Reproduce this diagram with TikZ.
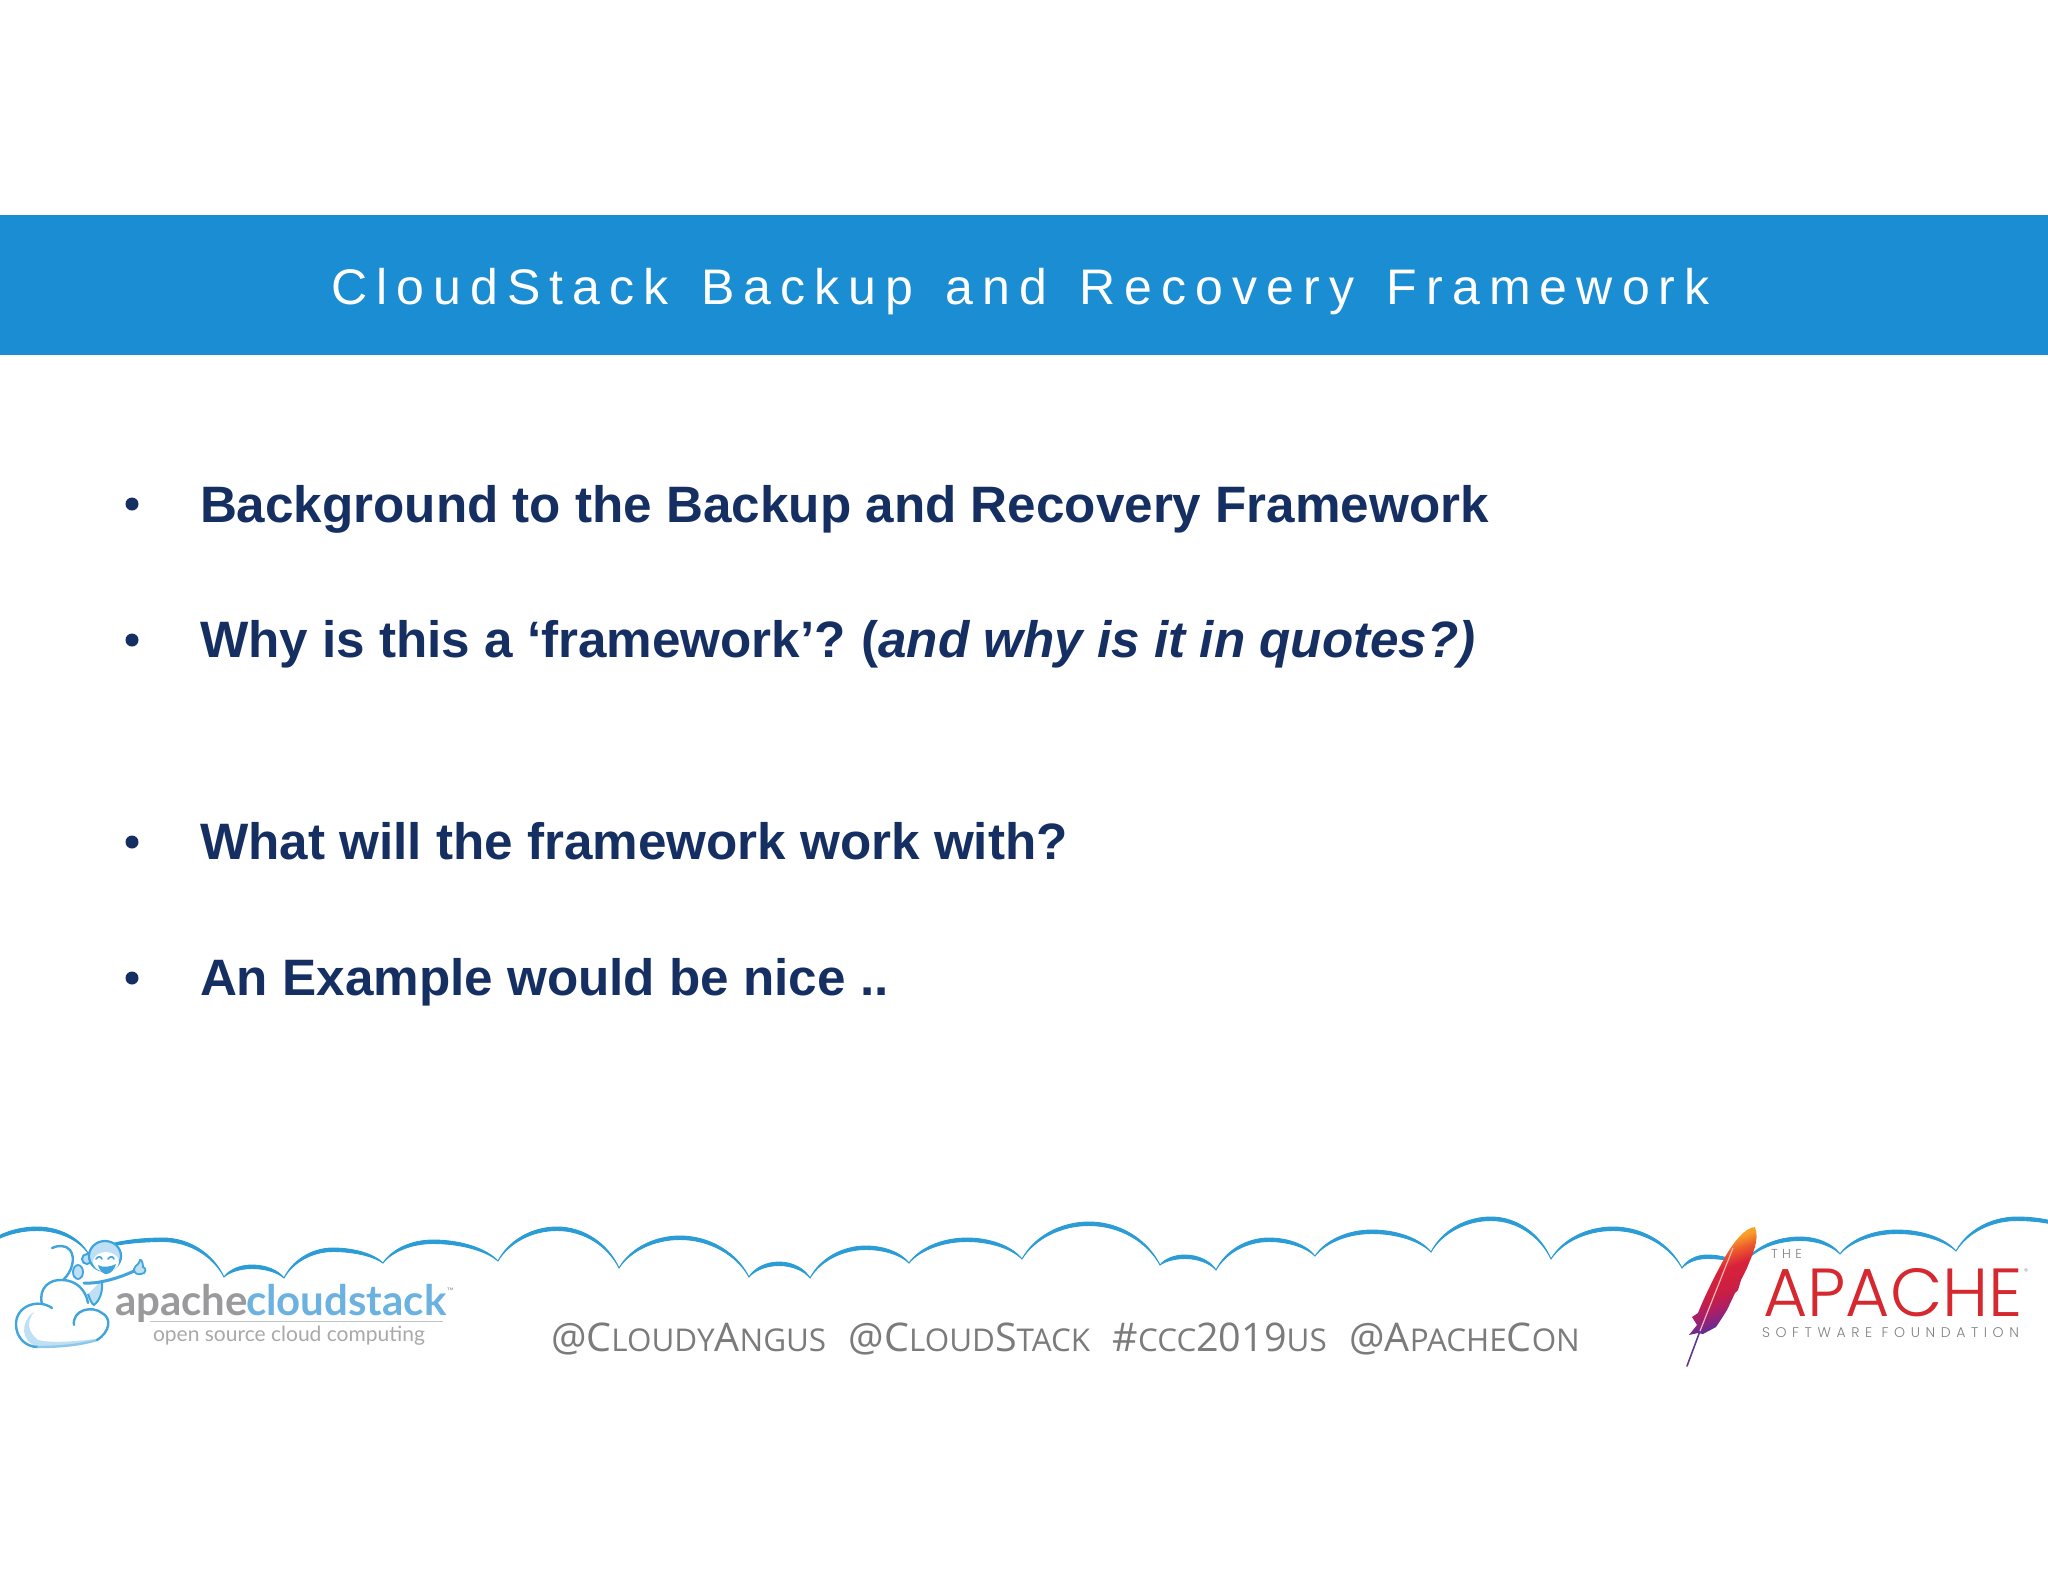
\documentclass[tikz,border=0pt]{standalone}
\usepackage{fontspec}
\setmainfont{Liberation Sans}
\newfontfamily\gilly{Open Sans}
\newfontfamily\logof{Lato}
\newfontfamily\pop{Poppins}[UprightFont=* Light]
\usetikzlibrary{calc}
\definecolor{banner}{HTML}{1B8DD2}
\definecolor{navy}{HTML}{152F63}
\definecolor{cloudline}{HTML}{2B9CD6}
\definecolor{mk}{HTML}{3FA5DC}
\definecolor{mklight}{HTML}{BFE0F4}
\definecolor{hash}{HTML}{7B7B7B}
\definecolor{lgray}{HTML}{9A9A9C}
\definecolor{lblue}{HTML}{6BB2E0}
\definecolor{ared}{HTML}{D5282F}
\definecolor{agray}{HTML}{808082}
\definecolor{fa}{HTML}{6E2A90}
\definecolor{fb}{HTML}{A81F6A}
\definecolor{fc}{HTML}{C81E45}
\definecolor{fd}{HTML}{D9223A}
\definecolor{fe}{HTML}{EC5A2C}
\definecolor{ff}{HTML}{F8A028}
\definecolor{quillp}{HTML}{5E3A8E}
\definecolor{quillw}{HTML}{F5B8B0}
\pgfdeclareverticalshading{feathershade}{100bp}{color(0bp)=(fa);color(30bp)=(fa);color(37bp)=(fb);color(44bp)=(fc);color(56bp)=(fd);color(63bp)=(fe);color(69bp)=(ff);color(100bp)=(ff)}
\tikzset{
  txt/.style={inner sep=0pt,outer sep=0pt,anchor=base west},
  bullettext/.style={txt,text=navy,font=\bfseries\fontsize{51.2}{60}\selectfont},
  bulletdot/.style={circle,fill=navy,inner sep=0pt,minimum size=13pt},
  mkline/.style={draw=mk,line width=2.4pt,line cap=round,line join=round},
}
\newcommand{\smc}[2]{{\fontsize{39.5}{46}\selectfont #1}{\fontsize{31.4}{46}\selectfont #2}}
\begin{document}
\begin{tikzpicture}[x=1pt,y=-1pt]
\useasboundingbox (0,0) rectangle (2048,1582);
\fill[white] (0,0) rectangle (2048,1582);
\fill[banner] (0,215) rectangle (2048,355);
\node[txt,text=white] (title) at (331,304) {\addfontfeature{LetterSpace=18.3}\fontsize{50}{60}\selectfont CloudStack\hspace{9pt} Backup\hspace{9pt} and\hspace{9pt} Recovery\hspace{9pt} Framework};
% bullets
\node[bulletdot] (b1) at (132,504) {};
\node[bulletdot] (b2) at (132,640) {};
\node[bulletdot] (b3) at (132,842) {};
\node[bulletdot] (b4) at (132,978) {};
\node[bullettext] (t1) at (200,522) {Background to the Backup and Recovery Framework};
\node[bullettext] (t2) at (200,657) {Why is this a ‘framework’? \hspace{-3.5pt}(\textit{and why is it in quotes?)}};
\node[bullettext] (t3) at (200,859) {What will the framework work with?};
\node[bullettext] (t4) at (200,995) {An Example would be nice ..};
% cloud line
\begin{scope}
\clip (0,0) rectangle (2048,1582);
\foreach \ax/\ay/\px/\py/\bx/\by in {
-30/1262/37/1227/88/1253, 88/1253/163/1238/224/1277, 224/1277/252/1265/284/1278,
284/1278/333/1248/383/1263, 383/1263/433/1240/498/1261, 498/1261/557/1227/619/1268,
619/1268/680/1236/749/1277, 749/1277/779/1262/810/1278, 810/1278/866/1246/909/1263,
909/1263/967/1238/1022/1259, 1022/1259/1089/1222/1160/1265, 1160/1265/1185/1255/1216/1270,
1216/1270/1269/1238/1315/1256, 1315/1256/1372/1230/1431/1252, 1431/1252/1491/1217/1551/1259,
1551/1259/1613/1227/1682/1268, 1682/1268/1707/1255/1735/1262, 1745/1262/1800/1237/1840/1254,
1840/1254/1897/1230/1956/1251, 1956/1251/2017/1217/2090/1240}{
  \pgfmathsetmacro\cax{\ax+0.18*(\px-\ax)}
  \pgfmathsetmacro\cay{\ay+0.6*(\py-\ay)}
  \pgfmathsetmacro\cbx{\px-0.43*(\px-\ax)}
  \pgfmathsetmacro\ccx{\px+0.43*(\bx-\px)}
  \pgfmathsetmacro\cdx{\bx-0.18*(\bx-\px)}
  \pgfmathsetmacro\cdy{\by+0.6*(\py-\by)}
  \pgfmathsetmacro\pyb{\py+3.5}
  \filldraw[cloudline,line width=0.9pt,line join=round]
    (\ax,\ay) .. controls (\cax,\cay) and (\cbx,\py) .. (\px,\py)
    .. controls (\ccx,\py) and (\cdx,\cdy) .. (\bx,\by)
    .. controls (\cdx,\cdy+2.5) and (\ccx,\pyb) .. (\px,\pyb)
    .. controls (\cbx,\pyb) and (\cax,\cay+2.5) .. (\ax,\ay) -- cycle;
}
\end{scope}
% cloudstack logo: cloud
\fill[mklight] (30,1315) .. controls (18,1330) and (26,1344) .. (38,1347) .. controls (60,1347) and (80,1345) .. (95,1339) .. controls (70,1342) and (50,1343) .. (38,1340) .. controls (28,1332) and (26,1322) .. (34,1312) -- cycle;
\draw[mkline] (52,1308) .. controls (38,1298) and (16,1306) .. (16,1324) .. controls (16,1338) and (26,1347) .. (38,1347);
\draw[mkline,mklight!60!mk] (38,1347) .. controls (60,1347) and (80,1345) .. (97,1340);
\draw[mkline] (97,1340) .. controls (110,1332) and (112,1318) .. (102,1313) .. controls (92,1305) and (72,1310) .. (74,1325);
\draw[mkline] (42,1304) .. controls (38,1288) and (50,1279) .. (62,1280) .. controls (76,1280) and (86,1290) .. (88,1303);
% monkey
\draw[mkline] (63,1280) .. controls (72,1272) and (76,1258) .. (70,1250) .. controls (66,1245) and (58,1245) .. (52,1248);
\fill[mklight] (96,1286) -- (102,1280) .. controls (103,1292) and (100,1300) .. (94,1305) .. controls (90,1303) and (88,1298) .. (88,1294) -- cycle;
\draw[mk,line width=2pt] (88,1294) .. controls (90,1300) and (92,1304) .. (94,1305) .. controls (100,1300) and (103,1292) .. (102,1280);
\filldraw[fill=mklight,draw=mk,line width=2pt] (87,1259) circle[radius=5];
\filldraw[fill=mklight,draw=mk,line width=2.2pt] (105,1256) ellipse[x radius=16,y radius=15];
\fill[white] (106,1262) ellipse[x radius=13,y radius=10];
\draw[mk,line width=1.6pt,line cap=round] (96,1259) .. controls (98,1256) and (101,1256) .. (102,1259);
\draw[mk,line width=1.6pt,line cap=round] (108,1259) .. controls (110,1256) and (113,1256) .. (114,1259);
\fill[mk] (98,1265) .. controls (103,1268) and (110,1267) .. (116,1264) .. controls (113,1275) and (102,1279) .. (98,1265) -- cycle;
\draw[mk,line width=3pt,line cap=round] (84,1283) .. controls (95,1284) and (115,1280) .. (134,1271);
\filldraw[fill=mklight,draw=mk,line width=1.8pt] (134,1269) .. controls (136,1264) and (139,1265) .. (140,1260) .. controls (142,1259) and (143,1264) .. (143,1267) .. controls (147,1268) and (146,1274) .. (141,1274) .. controls (137,1275) and (134,1273) .. (134,1269) -- cycle;
\filldraw[fill=mklight,draw=mk,line width=1.8pt] (78,1272) ellipse[x radius=5,y radius=7];
% cloudstack logo: text
\node[txt,text=lgray] (lapache) at (115,1315) {\logof\bfseries\fontsize{42}{50}\selectfont apache};
\node[txt,text=lblue] (lcloud) at (246,1315) {\logof\bfseries\fontsize{42}{50}\selectfont cloudstack};
\node[txt,text=lgray] (ltm) at (447,1294) {\logof\fontsize{9}{10}\selectfont ™};
\draw[lgray!60,line width=1pt] (150,1321) -- (443,1321);
\node[txt,text=lgray!85] (lsub) at (153,1341) {\logof\fontsize{21}{26}\selectfont open source cloud computing};
% hashtags
\node[txt,text=hash] (hash) at (551,1351) {\gilly\smc{@C}{LOUDY}\smc{A}{NGUS}\hspace{22.5pt}\smc{@C}{LOUD}\smc{S}{TACK}\hspace{22.5pt}\smc{\#}{CCC}\smc{2019}{US}\hspace{22.5pt}\smc{@A}{PACHE}\smc{C}{ON}};
% feather
\path[shading=feathershade,shading angle=20] (1755,1227) .. controls (1745,1228) and (1735,1240) .. (1725,1257)
  .. controls (1718,1270) and (1705,1295) .. (1698,1313) -- (1692,1317) -- (1697,1325) -- (1689,1335) -- (1698,1333)
  -- (1703,1334) -- (1716,1327) -- (1722,1318) -- (1727,1310) -- (1735,1293) -- (1738,1290) -- (1741,1280) -- (1747,1268)
  .. controls (1752,1255) and (1760,1240) .. (1755,1227) -- cycle;
\draw[quillp,line width=1.6pt,line cap=round] (1687,1366) -- (1700,1331);
\draw[quillw,line width=1.2pt] (1700,1331) -- (1733,1248);
% apache text
\node[txt,text=agray] (athe) at (1771,1258) {\pop\addfontfeature{LetterSpace=34}\fontsize{13}{14}\selectfont THE};
\node[txt,text=ared] (aapache) at (1763,1316) {\pop\fontsize{68}{70}\selectfont APACHE};
\node[txt,text=agray] (areg) at (2024,1274) {\pop\fontsize{8}{9}\selectfont ®};
\node[txt,text=agray] (asf) at (1762,1337) {\pop\addfontfeature{LetterSpace=40}\fontsize{14}{16}\selectfont SOFTWARE FOUNDATION};
\end{tikzpicture}
\end{document}
